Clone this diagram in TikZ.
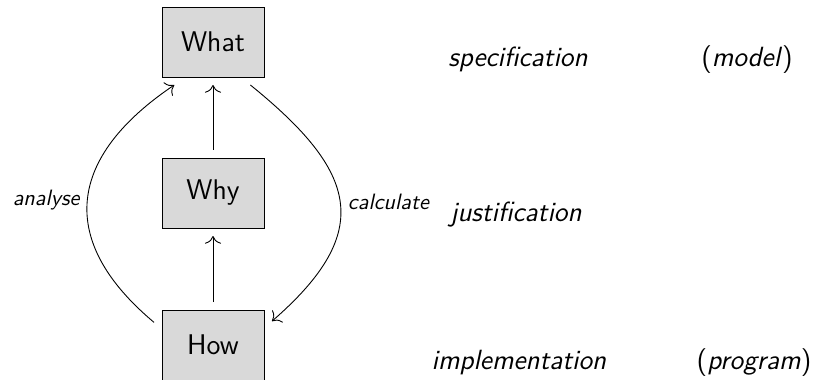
\documentclass[tikz,border=0pt]{standalone}
\usepackage{tikz}
\usetikzlibrary{positioning, arrows.meta}
\renewcommand{\familydefault}{\sfdefault}

\begin{document}
\begin{tikzpicture}[x=0.45pt, y=0.45pt, >={To[scale=1.4]},
        box/.style={rectangle, draw, fill=black!15, minimum width=45.9pt, minimum height=31.5pt, outer sep=3.6pt, font=\fontsize{12.8}{15}\selectfont},
        lbl/.style={anchor=base, font=\fontsize{12.5}{15}\selectfont},
        arc/.style={font=\fontsize{10}{12}\selectfont\itshape}]
        \useasboundingbox (0,0) rectangle (817,-379);
        \node[box] (what) at (213,-42) {What};
        \node[box] (why) [below=29.25pt of what] {Why};
        \node[box] (how) [below=29.7pt of why] {How};
        \draw[->] (why) -- (what);
        \draw[->] (how) -- (why);
        \draw[->] (how.159) to[out=140, in=214, looseness=1.38] node[arc, left] {analyse} (what.228);
        \draw[->] (what.-49) to[out=-39, in=41, looseness=1.48] node[arc, right] {calculate} (how.22);
        \node[lbl] (spec) at (518,-67) {\textit{specification}};
        \node[lbl] (model) at (747,-67) {(\textit{model})};
        \node[lbl] (just) at (516,-222) {\textit{justification}};
        \node[lbl] (impl) at (519,-369) {\textit{implementation}};
        \node[lbl] (prog) at (754,-369) {(\textit{program})};
    \end{tikzpicture}
\end{document}
